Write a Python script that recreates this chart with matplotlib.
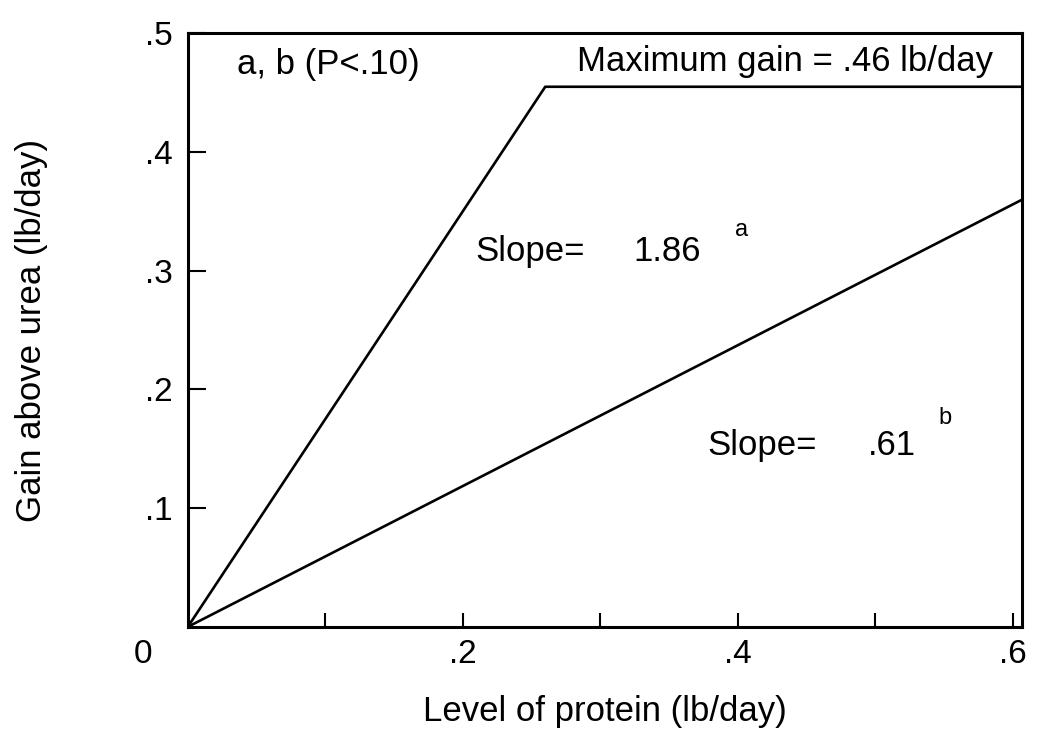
import matplotlib.pyplot as plt

plt.rcParams["font.family"] = ["Liberation Sans", "DejaVu Sans"]

# values (lb/day)
fast_x = [0, 0.26, 0.607]
fast_y = [0, 0.455, 0.455]
slow_x = [0, 0.607]
slow_y = [0, 0.36]

x_ticks = [0.1, 0.2, 0.3, 0.4, 0.5, 0.6]
x_tick_labels = ["", ".2", "", ".4", "", ".6"]
y_ticks = [0.1, 0.2, 0.3, 0.4, 0.5]
y_tick_labels = [".1", ".2", ".3", ".4", ".5"]


def plot_gain_vs_protein():
    fig = plt.figure(figsize=(10.55, 7.41), dpi=100)
    ax = fig.add_axes([0.178, 0.154, 0.791, 0.801])

    ax.plot(fast_x, fast_y, color="black", linewidth=1.9)
    ax.plot(slow_x, slow_y, color="black", linewidth=1.9)

    ax.set_xlim(0, 0.607)
    ax.set_ylim(0, 0.5)
    ax.set_xticks(x_ticks)
    ax.set_xticklabels(x_tick_labels)
    ax.set_yticks(y_ticks)
    ax.set_yticklabels(y_tick_labels)
    ax.tick_params(axis="x", direction="in", length=10, width=1.5,
                   labelsize=24, pad=9)
    ax.tick_params(axis="y", direction="in", length=13, width=1.5,
                   labelsize=24, pad=11)
    for spine in ax.spines.values():
        spine.set_linewidth(2.2)

    # shared origin label
    ax.annotate("0", xy=(0, 0), xytext=(-32, -20), textcoords="offset points",
                ha="center", va="center", fontsize=24)

    ax.text(0.036, 0.474, "a, b (P<.10)", fontsize=25, va="center")
    ax.text(0.586, 0.476, "Maximum gain = .46 lb/day", fontsize=25,
            ha="right", va="center")

    ax.text(0.209, 0.316, "Slope=", fontsize=25, va="center")
    ax.text(0.324, 0.316, "1.86", fontsize=25, va="center")
    ax.text(0.398, 0.334, "a", fontsize=17, va="center")

    ax.text(0.378, 0.153, "Slope=", fontsize=25, va="center")
    ax.text(0.495, 0.153, ".61", fontsize=25, va="center")
    ax.text(0.546, 0.176, "b", fontsize=17, va="center")

    ax.set_xlabel("Level of protein (lb/day)", fontsize=25)
    ax.set_ylabel("Gain above urea (lb/day)", fontsize=25)
    ax.xaxis.set_label_coords(0.5, -0.115)
    ax.yaxis.set_label_coords(-0.168, 0.5)

    fig.savefig("out.png", dpi=100)


plot_gain_vs_protein()
